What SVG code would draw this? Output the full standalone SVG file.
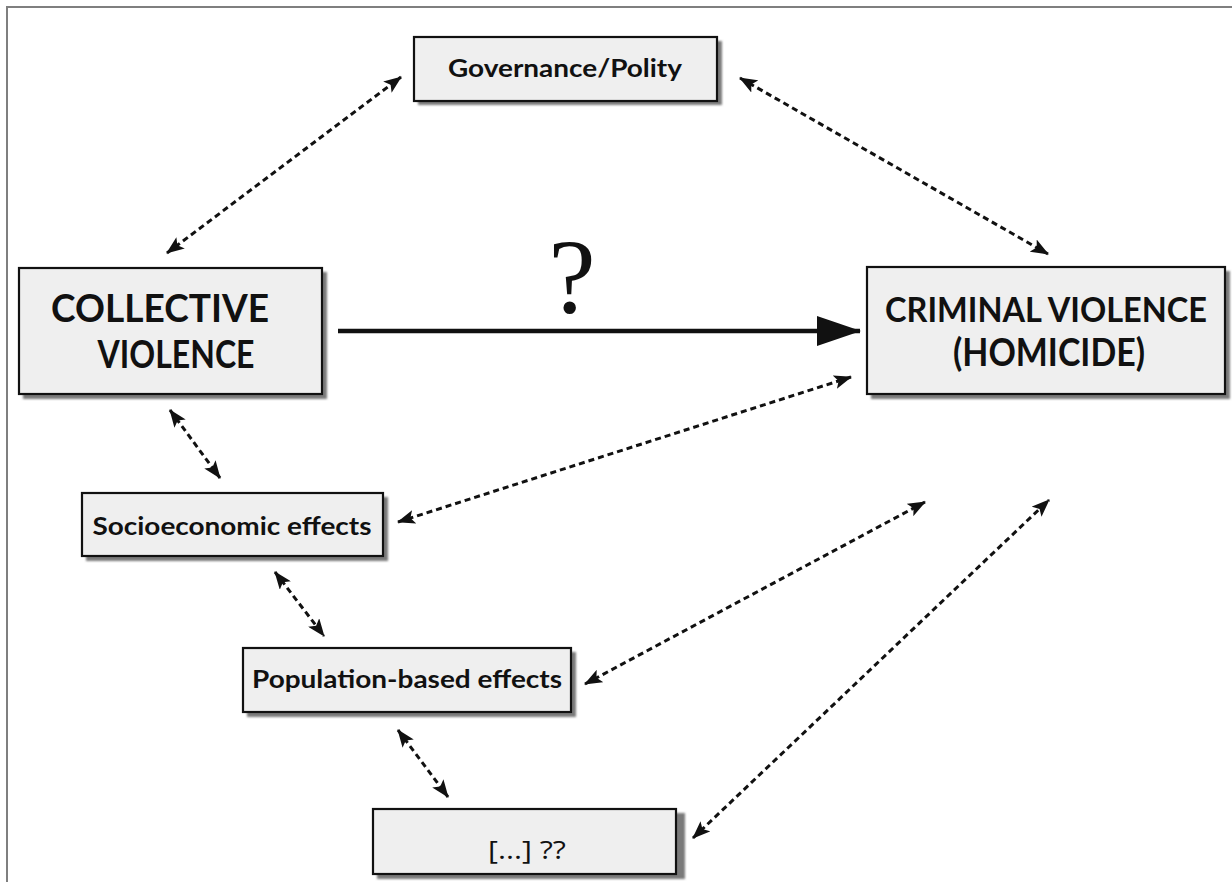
<svg xmlns="http://www.w3.org/2000/svg" width="1232" height="882" viewBox="0 0 1232 882">
<style>
.box{fill:#efefef;stroke:#111;stroke-width:2.2}
.sh{fill:#7a7a7a}
.t{font-family:Lato,"Open Sans","Liberation Sans",sans-serif;font-weight:bold;fill:#111;text-anchor:middle}
.big{font-size:39px}
.sm{font-size:24px}
.dash{stroke:#111;stroke-width:3;stroke-dasharray:6 4;fill:none;marker-start:url(#ah);marker-end:url(#ah)}
</style>
<defs>
<marker id="ah" viewBox="0 0 18 14" refX="17" refY="7" markerWidth="18" markerHeight="14" markerUnits="userSpaceOnUse" orient="auto-start-reverse">
<path d="M0,0 L18,7 L0,14 L4,7 z" fill="#111"/>
</marker>
<marker id="big" viewBox="0 0 44 30" refX="43" refY="15" markerWidth="44" markerHeight="30" markerUnits="userSpaceOnUse" orient="auto">
<path d="M0,0 L44,15 L0,30 z" fill="#111"/>
</marker>
<filter id="blur" x="-5%" y="-5%" width="110%" height="110%"><feGaussianBlur stdDeviation="1"/></filter>
</defs>
<rect width="1232" height="882" fill="#fff"/>
<path d="M7,882 V7 H1232" fill="none" stroke="#7f7f7f" stroke-width="2"/>

<g id="connectors">
<line x1="338" y1="331" x2="860" y2="331" stroke="#111" stroke-width="4.5" marker-end="url(#big)"/>
<text x="572" y="313" font-family="'Liberation Serif',serif" font-size="106" text-anchor="middle" fill="#111">?</text>
<line class="dash" x1="167" y1="253" x2="401" y2="77"/>
<line class="dash" x1="740" y1="78" x2="1048" y2="254"/>
<line class="dash" x1="170" y1="410" x2="220" y2="478"/>
<line class="dash" x1="398" y1="522" x2="851" y2="377"/>
<line class="dash" x1="275" y1="572" x2="324" y2="636"/>
<line class="dash" x1="585" y1="684" x2="925" y2="502"/>
<line class="dash" x1="398" y1="730" x2="448" y2="797"/>
<line class="dash" x1="693" y1="838" x2="1049" y2="500"/>
</g>

<g id="governance">
<rect class="sh" x="418" y="41" width="304" height="64" filter="url(#blur)"/>
<rect class="box" x="414" y="37" width="303" height="64"/>
<text class="t sm" x="565" y="77" textLength="234" lengthAdjust="spacingAndGlyphs">Governance/Polity</text>
</g>

<g id="collective">
<rect class="sh" x="23" y="272" width="304" height="127" filter="url(#blur)"/>
<rect class="box" x="19" y="268" width="303" height="126"/>
<text class="t big" x="160" y="322" textLength="218" lengthAdjust="spacingAndGlyphs">COLLECTIVE</text>
<text class="t big" x="176" y="368" textLength="157" lengthAdjust="spacingAndGlyphs">VIOLENCE</text>
</g>

<g id="criminal">
<rect class="sh" x="871" y="271" width="359" height="128" filter="url(#blur)"/>
<rect class="box" x="867" y="267" width="358" height="127"/>
<text class="t" font-size="35" x="1046" y="322" textLength="322" lengthAdjust="spacingAndGlyphs">CRIMINAL VIOLENCE</text>
<text class="t big" x="1049" y="366" textLength="192" lengthAdjust="spacingAndGlyphs">(HOMICIDE)</text>
</g>

<g id="socioeconomic">
<rect class="sh" x="86" y="497" width="302" height="64" filter="url(#blur)"/>
<rect class="box" x="82" y="493" width="301" height="63"/>
<text class="t sm" x="232" y="535" textLength="279" lengthAdjust="spacingAndGlyphs">Socioeconomic effects</text>
</g>

<g id="population">
<rect class="sh" x="247" y="652" width="329" height="65" filter="url(#blur)"/>
<rect class="box" x="243" y="648" width="328" height="64"/>
<text class="t sm" x="407" y="688" textLength="310" lengthAdjust="spacingAndGlyphs">Population-based effects</text>
</g>

<g id="unknown">
<rect class="sh" x="377" y="813" width="308" height="66" filter="url(#blur)"/>
<rect class="box" x="373" y="809" width="303" height="65"/>
<text x="527" y="859" font-family="'Open Sans','Liberation Sans',sans-serif" font-size="26" text-anchor="middle" fill="#111" textLength="78" lengthAdjust="spacingAndGlyphs">[...] ??</text>
</g>
</svg>
